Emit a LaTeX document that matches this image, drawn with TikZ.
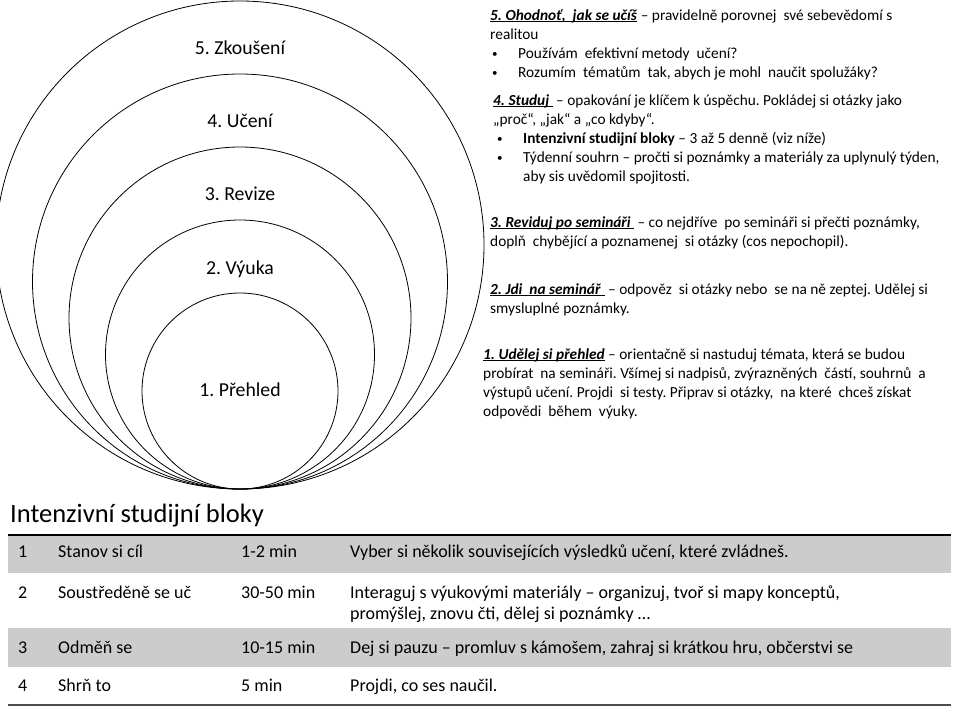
\documentclass[tikz,border=0pt]{standalone}
\usepackage{fontspec}
\setmainfont{Carlito}
\newsavebox{\hdbox}
\newcommand{\hd}[1]{\sbox{\hdbox}{\textbf{\textit{#1}}}\rlap{\rule[-2.2pt]{\wd\hdbox}{1.1pt}}\usebox{\hdbox}}
\newcommand{\bul}[1]{\hspace*{#1}\makebox[26pt][l]{\raisebox{0.5pt}{\fontsize{11}{11}\selectfont\textbullet}}}
\begin{document}
\frenchspacing
\begin{tikzpicture}[x=1pt,y=-1pt,
  ring/.style={draw=black, line width=0.8pt},
  lbl/.style={anchor=base, inner sep=0pt, font=\fontsize{19.75}{24}\selectfont},
  blk/.style={anchor=base west, inner sep=0pt, text width=470pt, align=flush left, font=\frenchspacing\fontsize{15.35}{19}\selectfont},
  cell/.style={anchor=base west, inner sep=0pt, text width=600pt, font=\frenchspacing\fontsize{18}{21.5}\selectfont, align=flush left},
  rowfill/.style={fill=black!20, draw=none}]
\useasboundingbox (0,0) rectangle (960,720);
\fill[white] (0,0) rectangle (960,720);
\begin{scope}
\clip (0,0) rectangle (960,720);
\draw[ring] (240,245) circle[radius=244pt];
\draw[ring] (240,281.5) circle[radius=207.5pt];
\draw[ring] (240,318) circle[radius=171pt];
\draw[ring] (240,354.5) circle[radius=134.5pt];
\draw[ring] (240,391) circle[radius=98pt];
\end{scope}
\node[lbl] (c5) at (240,54.5) {5. Zkoušení};
\node[lbl] (c4) at (240,127.5) {4. Učení};
\node[lbl] (c3) at (240,200.5) {3. Revize};
\node[lbl] (c2) at (240,274.5) {2. Výuka};
\node[lbl] (c1) at (240,396.5) {1. Přehled};

\node[blk] (b5) at (490,20) {\hd{5. Ohodnoť, \ jak se učíš} – pravidelně porovnej \ své sebevědomí s\\
realitou\\
\bul{2pt}Používám \ efektivní metody \ učení?\\
\bul{2pt}Rozumím \ tématům \ tak, abych je mohl \ naučit spolužáky?};

\node[blk] (b4) at (493,105) {\hd{4. Studuj\ } – opakování je klíčem k úspěchu. Pokládej si otázky jako\\
„proč“, „jak“ a „co kdyby“.\\
\bul{4pt}\textbf{Intenzivní studijní bloky} – 3 až 5 denně (viz níže)\\
\bul{4pt}Týdenní souhrn – pročti si poznámky a materiály za uplynulý týden,\\
\hspace*{30pt}aby sis uvědomil spojitosti.};

\node[blk] (b3) at (490,227) {\hd{3. Reviduj po semináři\ } – co nejdříve \ po semináři si přečti poznámky,\\
doplň \ chybějící a poznamenej \ si otázky (cos nepochopil).};

\node[blk] (b2) at (490,294) {\hd{2. Jdi \ na seminář\ } – odpověz \ si otázky nebo \ se na ně zeptej. Udělej si\\
smysluplné poznámky.};

\node[blk] (b1) at (483,359) {\hd{1. Udělej si přehled} – orientačně si nastuduj témata, která se budou\\
probírat \ na semináři. Všímej si nadpisů, zvýrazněných \ částí, souhrnů \ a\\
výstupů učení. Projdi \ si testy. Připrav si otázky, \ na které \ chceš získat\\
odpovědi \ během \ výuky.};

\node[anchor=base west, inner sep=0pt, font=\fontsize{26.5}{30}\selectfont] (title) at (10,522) {Intenzivní studijní bloky};

\fill[rowfill] (8,535) rectangle (951,573);
\fill[rowfill] (8,628) rectangle (951,667);
\draw[black, line width=1.4pt] (8,535) -- (951,535);
\draw[black!70, line width=1.4pt] (8,705) -- (951,705);

\node[cell] (n1) at (18,557) {1};
\node[cell] (a1) at (58,557) {Stanov si cíl};
\node[cell] (t1) at (241,557) {1-2 min};
\node[cell] (d1) at (350,557) {Vyber si několik souvisejících výsledků učení, které zvládneš.};

\node[cell] (n2) at (18,598) {2};
\node[cell] (a2) at (58,598) {Soustředěně se uč};
\node[cell] (t2) at (241,598) {30-50 min};
\node[cell] (d2) at (350,598) {Interaguj s výukovými materiály – organizuj, tvoř si mapy konceptů,\\promýšlej, znovu čti, dělej si poznámky …};

\node[cell] (n3) at (18,653) {3};
\node[cell] (a3) at (58,653) {Odměň se};
\node[cell] (t3) at (241,653) {10-15 min};
\node[cell] (d3) at (350,653) {Dej si pauzu – promluv s kámošem, zahraj si krátkou hru, občerstvi se};

\node[cell] (n4) at (18,691) {4};
\node[cell] (a4) at (58,691) {Shrň to};
\node[cell] (t4) at (241,691) {5 min};
\node[cell] (d4) at (350,691) {Projdi, co ses naučil.};
\end{tikzpicture}
\end{document}
